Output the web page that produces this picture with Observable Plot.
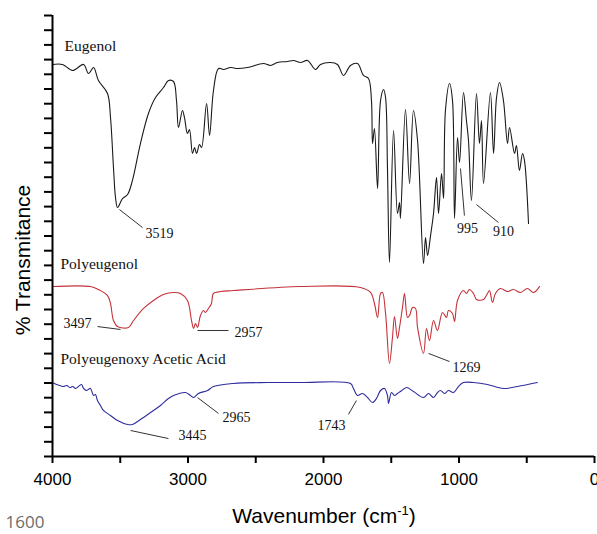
<!DOCTYPE html>
<html>
<head>
<meta charset="utf-8">
<script src="https://cdn.jsdelivr.net/npm/d3@7"></script>
<script src="https://cdn.jsdelivr.net/npm/@observablehq/plot@0.6"></script>
<style>
  html, body { margin: 0; padding: 0; background: #fff; }
  #chart svg { display: block; }
</style>
</head>
<body>
<div id="chart"></div>
<script>
// Eugenol spectrum: [wavenumber cm-1, % transmittance (offset units)]
const eugenol = [
  [4000,26.67],[3926,26.67],[3852,26.26],[3771,26.67],[3734,26.05],[3697,26.46],[3661,25.58],
  [3594,24.69],[3572,23.06],[3550,19.66],[3535,17.62],[3520,16.94],[3483,17.55],[3446,17.82],
  [3410,18.78],[3351,21.29],[3292,23.33],[3240,24.42],[3181,25.10],[3144,25.58],[3107,25.51],
  [3085,24.22],[3070,22.38],[3041,23.54],[3026,23.06],[3004,21.97],[2989,22.24],[2967,20.61],
  [2952,21.02],[2937,20.61],[2915,21.22],[2900,21.02],[2863,24.01],[2841,21.84],[2812,24.90],
  [2775,26.39],[2738,26.33],[2686,26.46],[2635,26.39],[2561,26.46],[2443,26.73],[2391,26.60],
  [2340,26.80],[2266,26.87],[2221,26.94],[2170,26.80],[2118,26.94],[2059,26.33],[2022,26.67],
  [1948,26.80],[1897,26.67],[1852,25.92],[1801,26.60],[1749,26.73],[1705,25.92],[1668,25.71],
  [1646,24.22],[1638,21.29],[1624,22.31],[1601,18.23],[1579,24.22],[1557,24.97],[1542,24.42],
  [1528,19.66],[1513,13.20],[1483,22.18],[1454,16.53],[1439,17.28],[1432,16.19],[1395,23.61],
  [1365,18.57],[1336,23.54],[1306,21.50],[1262,13.13],[1247,14.90],[1232,13.67],[1210,15.03],
  [1188,16.53],[1166,18.98],[1151,16.53],[1129,19.25],[1114,17.55],[1100,23.54],[1070,25.37],
  [1048,24.22],[1033,16.19],[1011,21.70],[996,20.00],[967,24.76],[945,22.86],[930,21.50],
  [908,17.41],[871,24.69],[849,21.29],[834,22.86],[819,18.57],[768,24.76],[745,20.61],
  [723,24.42],[701,25.44],[672,24.22],[642,21.29],[627,22.38],[590,20.61],[576,21.16],
  [554,19.46],[531,20.61],[517,20.14],[487,15.85]
];

// Polyeugenol spectrum
const polyeugenol = [
  [4000,11.56],[3720,11.56],[3661,11.36],[3594,10.95],[3572,10.41],[3550,9.25],[3520,8.84],
  [3439,8.78],[3402,9.25],[3328,10.07],[3255,10.61],[3181,11.02],[3107,11.16],[3055,11.09],
  [3004,10.61],[2974,9.25],[2959,8.71],[2945,9.05],[2930,8.78],[2908,9.59],[2886,9.93],
  [2871,9.80],[2849,10.07],[2827,10.41],[2812,11.09],[2760,11.22],[2664,11.29],[2170,11.56],
  [1727,11.50],[1653,11.16],[1624,10.41],[1601,9.46],[1579,11.09],[1565,11.16],[1542,9.73],
  [1513,6.33],[1491,8.10],[1476,9.52],[1454,8.03],[1439,8.78],[1417,10.14],[1402,11.09],
  [1380,9.46],[1365,9.59],[1343,10.14],[1321,10.07],[1306,8.78],[1262,7.01],[1240,8.71],
  [1218,7.89],[1188,9.25],[1159,8.57],[1122,9.80],[1092,9.46],[1078,9.93],[1048,9.73],
  [1033,9.18],[1011,10.61],[967,11.29],[945,11.09],[923,11.36],[893,11.09],[871,10.68],
  [819,10.68],[790,11.09],[775,11.29],[753,10.48],[731,11.09],[694,11.43],[642,11.22],
  [598,11.36],[546,11.16],[495,11.43],[450,11.16],[406,11.56]
];

// Polyeugenoxy Acetic Acid spectrum
const paa = [
  [4000,5.03],[3970,4.90],[3945,4.83],[3920,4.76],[3895,4.83],[3870,4.69],[3850,4.76],
  [3830,4.63],[3786,4.90],[3771,4.63],[3749,4.49],[3720,4.63],[3697,4.15],[3683,4.22],
  [3668,3.81],[3646,3.47],[3624,3.13],[3572,2.79],[3520,2.45],[3446,2.18],[3410,2.18],
  [3351,2.52],[3277,2.99],[3203,3.47],[3144,3.95],[3107,4.15],[3018,4.35],[2982,4.15],
  [2959,4.01],[2923,4.29],[2856,4.49],[2812,4.76],[2664,4.97],[2413,5.03],[2170,5.03],
  [1801,4.97],[1779,4.63],[1749,4.15],[1712,4.29],[1675,4.01],[1638,3.67],[1609,3.95],
  [1579,4.49],[1550,4.63],[1528,4.15],[1520,3.61],[1498,4.35],[1476,4.15],[1454,4.29],
  [1432,4.42],[1387,4.69],[1336,4.42],[1262,4.01],[1225,4.29],[1188,4.01],[1159,4.35],
  [1137,4.49],[1107,4.29],[1078,4.49],[1041,4.35],[1004,4.76],[967,5.03],[893,5.03],
  [790,4.90],[672,4.63],[568,4.76],[421,5.03]
];

// Series names: [name, wavenumber of text start, y]
const seriesLabels = [
  ["Eugenol", 3911, 27.89],
  ["Polyeugenol", 3941, 13.06],
  ["Polyeugenoxy Acetic Acid", 3941, 6.60]
];

// Peak annotations: label, text x, text y, leader x1, y1, x2, y2
const peakLabels = ["3519", "995", "910", "3497", "2957", "1269", "3445", "2965", "1743"];
const peakTextX  = [3210, 937, 672, 3815, 2554, 945, 2967, 2642, 1941];
const peakTextY  = [15.17, 15.51, 15.31, 9.05, 8.44, 6.05, 1.43, 2.65, 2.11];
const leaderX1   = [3506, 989, 871, 3668, 2930, 1225, 3424, 2930, 1816];
const leaderY1   = [16.80, 19.59, 17.14, 8.84, 8.57, 7.01, 1.77, 4.01, 2.86];
const leaderX2   = [3336, 960, 709, 3498, 2701, 1070, 3144, 2775, 1757];
const leaderY2   = [15.58, 16.39, 15.92, 8.64, 8.57, 6.46, 1.22, 2.93, 3.81];

const xMajorTicks = [4000, 3000, 2000, 1000, 0];
const xMinorTicks = [3500, 2500, 1500, 500];
const yTicks = d3.range(0, 31);

const xTitle = "Wavenumber (cm";
const xTitleSup = "-1";
const yTitle = "% Transmitance";
const footnote = "1600";

const peaks = peakLabels.map((label, i) => ({
  label, tx: peakTextX[i], ty: peakTextY[i],
  x1: leaderX1[i], y1: leaderY1[i], x2: leaderX2[i], y2: leaderY2[i]
}));

const W = 597, H = 534;
const serif = "'Liberation Serif', 'Times New Roman', serif";

const chart = Plot.plot({
  width: W,
  height: H,
  marginLeft: 52,
  marginRight: 3,
  marginTop: 15,
  marginBottom: 78,
  style: { fontFamily: "'Liberation Sans', Arial, sans-serif", background: "#fff", overflow: "visible" },
  x: { domain: [4000, 0], label: null },
  y: { domain: [0, 30], label: null },
  marks: [
    Plot.axisX({ ticks: xMajorTicks, tickSize: 7, tickPadding: 9, fontSize: 17, strokeWidth: 2, label: null, tickFormat: d => String(d), fill: "#000" }),
    Plot.axisX({ ticks: xMinorTicks, tickSize: 7, strokeWidth: 2, label: null, tickFormat: () => "" }),
    Plot.axisY({ ticks: yTicks, tickSize: 8, strokeWidth: 2, label: null, tickFormat: () => "" }),
    Plot.line(eugenol, { x: d => d[0], y: d => d[1], stroke: "#1a1a1a", strokeWidth: 1.1, curve: "catmull-rom" }),
    Plot.line(polyeugenol, { x: d => d[0], y: d => d[1], stroke: "#c4323a", strokeWidth: 1.1, curve: "catmull-rom" }),
    Plot.line(paa, { x: d => d[0], y: d => d[1], stroke: "#2e2e9e", strokeWidth: 1.1, curve: "catmull-rom" }),
    Plot.link(peaks, { x1: "x1", y1: "y1", x2: "x2", y2: "y2", stroke: "#333", strokeWidth: 1 }),
    Plot.text(peaks, { x: "tx", y: "ty", text: "label", fontFamily: serif, fontSize: 14, fill: "#111", textAnchor: "middle", lineAnchor: "middle" }),
    Plot.text(seriesLabels, { x: d => d[1], y: d => d[2], text: d => d[0], fontFamily: serif, fontSize: 15.5, fill: "#111", textAnchor: "start", lineAnchor: "middle" }),
    Plot.ruleX([4000], { strokeWidth: 2, stroke: "#000" }),
    Plot.ruleY([0], { strokeWidth: 2, stroke: "#000" })
  ]
});

document.getElementById("chart").appendChild(chart);

// Axis titles and footnote as real SVG text
const svg = d3.select(chart);
const xt = svg.append("text")
  .attr("x", 324).attr("y", 523)
  .attr("text-anchor", "middle")
  .attr("font-family", "'Liberation Sans', Arial, sans-serif")
  .attr("font-size", 21).attr("fill", "#000");
xt.append("tspan").text(xTitle);
xt.append("tspan").attr("dy", -8).attr("font-size", 13).text(xTitleSup);
xt.append("tspan").attr("dy", 8).text(")");

svg.append("text")
  .attr("transform", "translate(30,260) rotate(-90)")
  .attr("text-anchor", "middle")
  .attr("font-family", "'Liberation Sans', Arial, sans-serif")
  .attr("font-size", 21).attr("fill", "#000")
  .text(yTitle);

svg.append("text")
  .attr("x", 25).attr("y", 528)
  .attr("font-family", "'Open Sans', 'Noto Sans', sans-serif")
  .attr("font-size", 17).attr("fill", "#6b6b6b")
  .text(footnote);
</script>
</body>
</html>
